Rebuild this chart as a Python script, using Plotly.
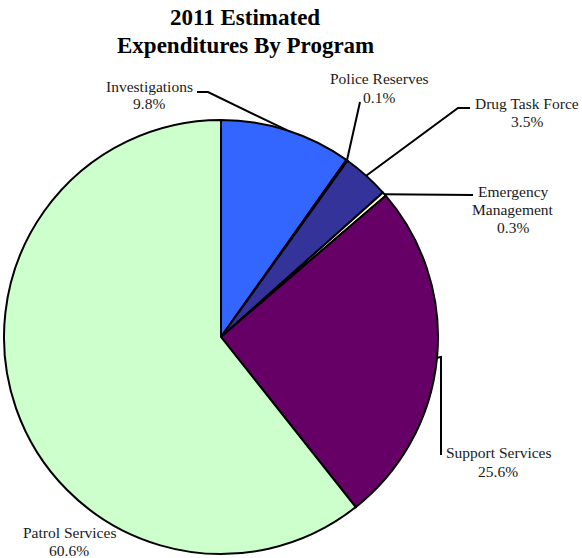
import math
import plotly.graph_objects as go

# Program expenditure shares (percent), clockwise from 12 o'clock
programs = ["Investigations", "Police Reserves", "Drug Task Force",
            "Emergency Management", "Support Services", "Patrol Services"]
shares = [9.8, 0.1, 3.5, 0.3, 25.6, 60.6]
label_lines = [["Investigations", "9.8%"], ["Police Reserves", "0.1%"],
               ["Drug Task Force", "3.5%"], ["Emergency", "Management", "0.3%"],
               ["Support Services", "25.6%"], ["Patrol Services", "60.6%"]]
colors = ["#3366FF", "#000080", "#333399", "#FFFFCC", "#660066", "#CCFFCC"]
title_lines = ["2011 Estimated", "Expenditures By Program"]

W, H = 582, 558
CX, CY, R = 221, 337, 217          # pie centre and radius in pixels
LABEL_FONT, LABEL_STEP = 15.5, 18  # label font size and line spacing (px)
TITLE_FONT, TITLE_STEP = 23, 27

# label placement (text block centre, pixels) and leader-line bends
label_pos = {
    "Investigations": (149, 95),
    "Police Reserves": (379, 88),
    "Drug Task Force": (527, 112),
    "Emergency Management": (513, 209),
    "Support Services": (498, 462),
    "Patrol Services": (69, 541),
}
leader_bends = {
    "Investigations": [(197, 92), (208, 92)],
    "Police Reserves": [(360, 102)],
    "Drug Task Force": [(470, 108), (458, 108)],
    "Emergency Management": [(473, 195)],
    "Support Services": [(441, 455), (441, 357)],
    "Patrol Services": None,
}


def px(x, y):
    return x / W, 1 - y / H


def text_block(lines, cx, cy, step, font):
    out = []
    n = len(lines)
    for i, line in enumerate(lines):
        ly = cy + (i - (n - 1) / 2) * step
        fx, fy = px(cx, ly)
        out.append(dict(x=fx, y=fy, xref="paper", yref="paper", text=line,
                        showarrow=False, xanchor="center", yanchor="middle",
                        font=font))
    return out


fig = go.Figure(go.Pie(
    labels=programs, values=shares, sort=False, direction="clockwise",
    rotation=0, textinfo="none", hoverinfo="label+percent",
    marker=dict(colors=colors, line=dict(color="black", width=2)),
    domain=dict(x=[(CX - R) / W, (CX + R) / W],
                y=[(H - CY - R) / H, (H - CY + R) / H]),
    showlegend=False,
))

total = sum(shares)
cum = 0.0
shapes, annotations = [], []
label_font = dict(family="Liberation Serif", size=LABEL_FONT, color="#1a1a1a")
for name, val, lines in zip(programs, shares, label_lines):
    mid = (cum + val / 2) / total * 2 * math.pi
    cum += val
    ax, ay = CX + R * math.sin(mid), CY - R * math.cos(mid)
    tx, ty = label_pos[name]
    annotations += text_block(lines, tx, ty, LABEL_STEP, label_font)
    bends = leader_bends[name]
    if bends:
        pts = bends + [(ax, ay)]
        path = "M " + " L ".join(f"{px(x, y)[0]},{px(x, y)[1]}" for x, y in pts)
        shapes.append(dict(type="path", path=path, xref="paper", yref="paper",
                           line=dict(color="black", width=2)))

annotations += text_block([f"<b>{t}</b>" for t in title_lines], 245, 31.5,
                          TITLE_STEP,
                          dict(family="Liberation Serif", size=TITLE_FONT,
                               color="black"))

fig.update_layout(
    width=W, height=H, margin=dict(l=0, r=0, t=0, b=0),
    paper_bgcolor="white", plot_bgcolor="white",
    shapes=shapes, annotations=annotations,
)

fig.write_html("out.html")
